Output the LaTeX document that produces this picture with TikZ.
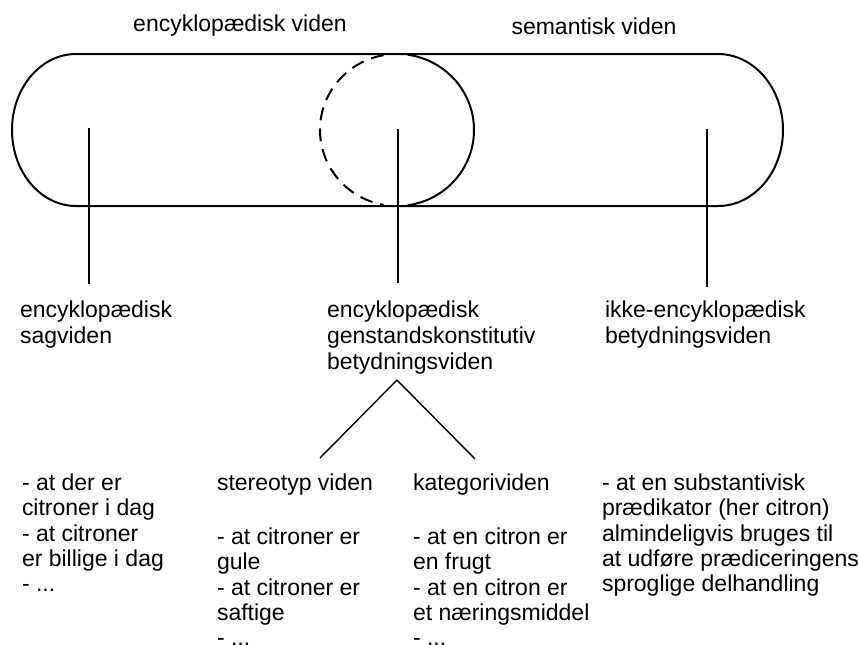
\documentclass[tikz,border=0pt]{standalone}
\usepackage{fontspec}
\setmainfont{Liberation Sans}
\begin{document}
\begin{tikzpicture}[x=0.5pt,y=-0.5pt,
  outline/.style={line width=1pt, line join=round},
  dashedarc/.style={line width=1pt, dash pattern=on 6.5pt off 4pt},
  stem/.style={line width=0.7pt},
  lbl/.style={anchor=north west, inner sep=0pt, outer sep=0pt, align=left, font=\fontsize{11.5}{12.9}\selectfont},
  lst/.style={lbl, font=\fontsize{11.5}{12.6}\selectfont},
  lstb/.style={lbl, font=\fontsize{11.5}{12.65}\selectfont},
  ttl/.style={inner sep=0pt, font=\fontsize{11.5}{13}\selectfont}]
\useasboundingbox (0,0) rectangle (858,644);

% titles
\node[ttl] (tenc) at (240,26) {encyklopædisk viden};
\node[ttl] (tsem) at (594,26) {semantisk viden};

% the long rounded band
\draw[outline] (76,54) -- (718,54)
  arc[start angle=90,end angle=-90,x radius=32.5pt,y radius=38pt]
  -- (76,206)
  arc[start angle=270,end angle=90,x radius=32pt,y radius=38pt] -- cycle;

% the overlap circle
\draw[dashedarc] (397,130) ++(100:38.5pt and 38pt)
  arc[start angle=100,end angle=260,x radius=38.5pt,y radius=38pt];
\draw[outline] (397,130) ++(-82:38.5pt and 38pt)
  arc[start angle=-82,end angle=82,x radius=38.5pt,y radius=38pt];

% stems
\coordinate (s1a) at (89,128);  \coordinate (s1b) at (89,284);
\coordinate (s2a) at (398,129); \coordinate (s2b) at (398,283);
\coordinate (s3a) at (707,129); \coordinate (s3b) at (707,287);
\draw[stem] (s1a) -- (s1b);
\draw[stem] (s2a) -- (s2b);
\draw[stem] (s3a) -- (s3b);

% middle-row labels
\node[lbl] (sag) at (20,301) {encyklopædisk\\sagviden};
\node[lbl] (gen) at (327,301) {encyklopædisk\\genstandskonstitutiv\\betydningsviden};
\node[lbl] (ikke) at (605,301) {ikke-encyklopædisk\\betydningsviden};

% branching
\coordinate (apex) at (397,380);
\coordinate (legL) at (320,458);
\coordinate (legR) at (475,459);
\draw[stem] (legL) -- (apex) -- (legR);

% bottom row
\node[lst] (sagl) at (22,474) {- at der er\\citroner i dag\\- at citroner\\er billige i dag\\- ...};
\node[lbl] (stereo) at (217,474) {stereotyp viden};
\node[lstb] (stereol) at (217,528) {- at citroner er\\gule\\- at citroner er\\saftige\\- ...};
\node[lbl] (kat) at (413,474) {kategorividen};
\node[lstb] (katl) at (413,528) {- at en citron er\\en frugt\\- at en citron er\\et næringsmiddel\\- ...};
\node[lst] (ikkel) at (602,474) {- at en substantivisk\\prædikator (her citron)\\almindeligvis bruges til\\at udføre prædiceringens\\sproglige delhandling};
\end{tikzpicture}
\end{document}
